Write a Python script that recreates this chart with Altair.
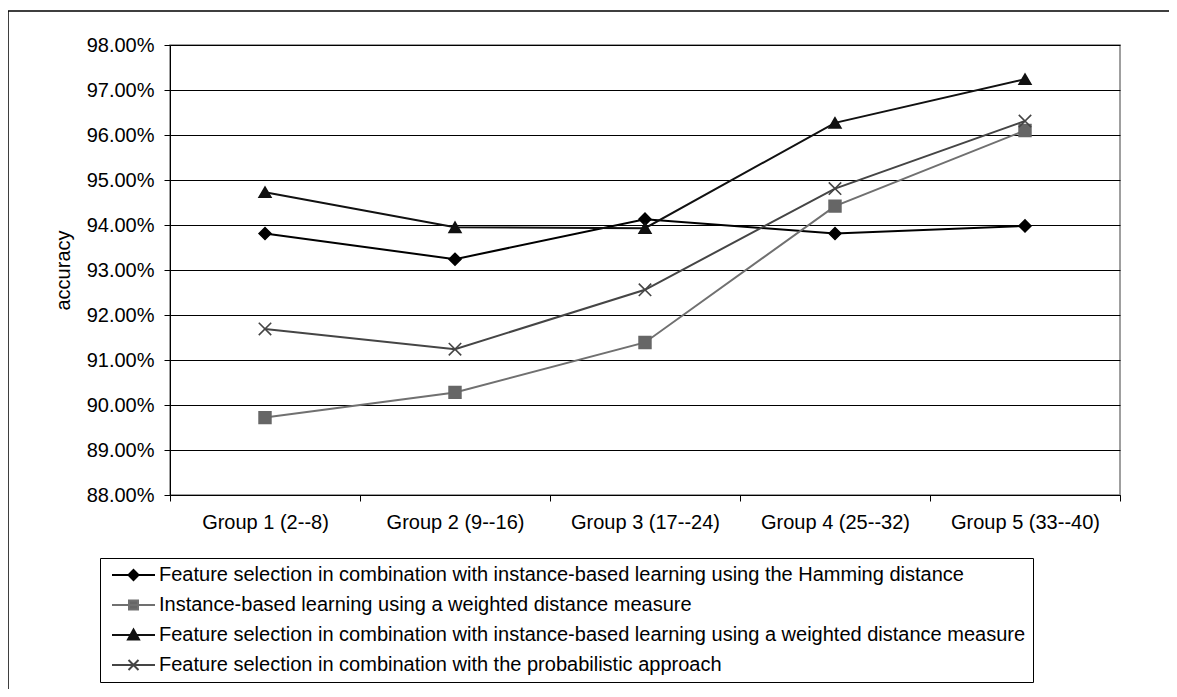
import altair as alt
import pandas as pd

groups = ["Group 1 (2--8)", "Group 2 (9--16)", "Group 3 (17--24)", "Group 4 (25--32)", "Group 5 (33--40)"]
series = [
    "Feature selection in combination with instance-based learning using the Hamming distance",
    "Instance-based learning using a weighted distance measure",
    "Feature selection in combination with instance-based learning using a weighted distance measure",
    "Feature selection in combination with the probabilistic approach",
]
hamming = [93.81, 93.24, 94.13, 93.81, 93.98]
weighted = [89.72, 90.28, 91.39, 94.42, 96.10]
fs_weighted = [94.73, 93.95, 93.93, 96.27, 97.24]
probabilistic = [91.69, 91.24, 92.56, 94.81, 96.31]
y_ticks = [0.88, 0.89, 0.90, 0.91, 0.92, 0.93, 0.94, 0.95, 0.96, 0.97, 0.98]

line_colors = ["#000000", "#707070", "#111111", "#454545"]
marker_colors = ["#000000", "#666666", "#111111", "#454545"]
marker_shapes = ["diamond", "square", "triangle-up", "M-1.05,-1.05L1.05,1.05M-1.05,1.05L1.05,-1.05"]
legend_shapes = [
    "M-1,0H7.6M3.3,-1L4.3,0L3.3,1L2.3,0Z",
    "M-1,0H7.6M2.4,-0.9H4.2V0.9H2.4Z",
    "M-1,0H7.6M3.3,-1.1L4.4,0.9H2.2Z",
    "M-1,0H7.6M2.3,-1L4.3,1M2.3,1L4.3,-1",
]

rows = []
for name, vals in zip(series, [hamming, weighted, fs_weighted, probabilistic]):
    for g, v in zip(groups, vals):
        rows.append({"group": g, "series": name, "label": name, "acc": v / 100})
df = pd.DataFrame(rows)

FONT = "Liberation Sans"
FS = 20

x_enc = alt.X(
    "group:N",
    sort=groups,
    scale=alt.Scale(type="band", domain=groups, paddingInner=0, paddingOuter=0),
    axis=alt.Axis(
        title=None, tickBand="extent", labelFontSize=FS, labelFont=FONT, labelColor="#000",
        tickSize=6, tickColor="#000", domainColor="#000", labelPadding=11, grid=False,
        labelAngle=0,
    ),
)
y_enc = alt.Y(
    "acc:Q",
    scale=alt.Scale(domain=[0.88, 0.98], nice=False, zero=False),
    axis=alt.Axis(
        title="accuracy", values=y_ticks, format=".2%", labelFontSize=FS, labelFont=FONT,
        labelColor="#000", tickSize=6, tickColor="#000", domainColor="#000",
        gridColor="#000", gridWidth=1, gridOpacity=1,
        titleFont=FONT, titleFontSize=FS, titleFontWeight="normal", titleColor="#000",
        titleX=-107, titleY=225, titleAlign="center", titleBaseline="middle", titleAngle=270,
        labelPadding=10,
    ),
)

lines = alt.Chart(df).mark_line(strokeWidth=2).encode(
    x=x_enc,
    y=y_enc,
    color=alt.Color("series:N", scale=alt.Scale(domain=series, range=line_colors), legend=None),
)

points = alt.Chart(df).mark_point(filled=False, size=140, strokeWidth=1.6, opacity=1).encode(
    x=x_enc,
    y=y_enc,
    fill=alt.Fill("series:N", scale=alt.Scale(domain=series, range=marker_colors), legend=None),
    stroke=alt.Stroke("series:N", scale=alt.Scale(domain=series, range=marker_colors), legend=None),
    shape=alt.Shape("series:N", scale=alt.Scale(domain=series, range=marker_shapes), legend=None),
)

legend_layer = alt.Chart(df).mark_point(
    filled=False, size=100, strokeWidth=2, opacity=0
).encode(
    x=x_enc,
    y=y_enc,
    fill=alt.Fill("label:N", scale=alt.Scale(domain=series, range=marker_colors), legend=alt.Legend(title=None)),
    stroke=alt.Stroke("label:N", scale=alt.Scale(domain=series, range=line_colors), legend=alt.Legend(title=None)),
    shape=alt.Shape(
        "label:N",
        scale=alt.Scale(domain=series, range=legend_shapes),
        legend=alt.Legend(
            title=None, orient="none", legendX=-70, legendY=513,
            labelFont=FONT, labelFontSize=FS, labelColor="#000", labelLimit=2000,
            symbolStrokeWidth=2, symbolSize=100, labelOffset=32,
            strokeColor="#000", padding=7, rowPadding=10, fillColor="#fff",
            symbolOpacity=1,
        ),
    ),
)

frame_df = pd.DataFrame({"k": [0]})
frame = alt.Chart(frame_df).mark_rect(fill=None, stroke="#000", strokeWidth=1.5).encode(
    x=alt.value(-162), x2=alt.value(1200), y=alt.value(-34), y2=alt.value(720)
)

chart = alt.layer(frame, lines, points, legend_layer).resolve_scale(
    fill="independent", stroke="independent", shape="independent"
).resolve_legend(
    fill="independent", stroke="independent", shape="independent"
).properties(
    width=950, height=450,
    padding={"left": 162, "top": 37, "right": 49, "bottom": 194},
    autosize=alt.AutoSizeParams(type="none"),
    background="#ffffff",
).configure_view(stroke="#808080", strokeWidth=1.5)

chart.save("out.html", embed_options={"renderer": "svg", "actions": False})
